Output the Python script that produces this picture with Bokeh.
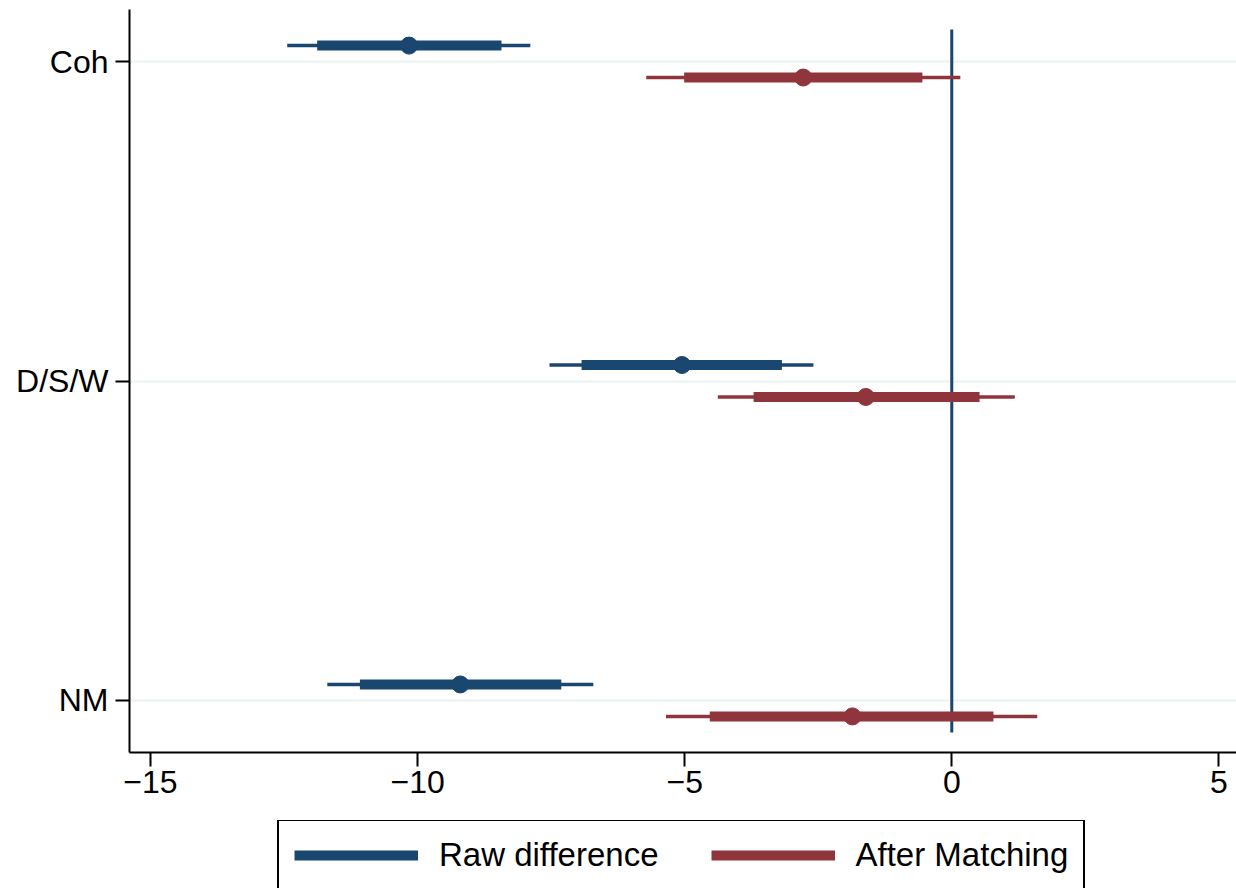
from bokeh.plotting import figure
from bokeh.layouts import column
from bokeh.models import Range1d, FixedTicker, Legend, LegendItem, ColumnDataSource
from bokeh.embed import file_html
from bokeh.resources import INLINE

# ---- data ----
categories = ["Coh", "D/S/W", "NM"]
raw_est = [-10.16, -5.05, -9.20]
raw_lo95 = [-11.88, -6.93, -11.08]
raw_hi95 = [-8.43, -3.18, -7.31]
raw_lo99 = [-12.44, -7.53, -11.69]
raw_hi99 = [-7.89, -2.59, -6.71]
match_est = [-2.78, -1.61, -1.86]
match_lo95 = [-5.01, -3.71, -4.53]
match_hi95 = [-0.55, 0.52, 0.78]
match_lo99 = [-5.72, -4.38, -5.35]
match_hi99 = [0.16, 1.18, 1.60]
series_labels = ["Raw difference", "After Matching"]
x_ticks = [-15, -10, -5, 0, 5]
x_tick_labels = ["\u221215", "\u221210", "\u22125", "0", "5"]

BLUE = "#1a476f"
RED = "#90353b"
FONT = "Liberation Sans"

pos = [i + 1 for i in range(len(categories))]
off = 0.05
raw_y = [p_ - off for p_ in pos]
match_y = [p_ + off for p_ in pos]

p = figure(width=1236, height=820, output_backend="svg", toolbar_location=None,
           x_range=Range1d(-15.393, 5.33), y_range=Range1d(3.163, 0.837),
           min_border_left=129, min_border_right=0, min_border_top=9, min_border_bottom=68)
p.outline_line_color = None
p.background_fill_color = "white"
p.border_fill_color = "white"

raw_src = ColumnDataSource(dict(y=raw_y, est=raw_est, lo95=raw_lo95, hi95=raw_hi95,
                                lo99=raw_lo99, hi99=raw_hi99))
match_src = ColumnDataSource(dict(y=match_y, est=match_est, lo95=match_lo95, hi95=match_hi95,
                                  lo99=match_lo99, hi99=match_hi99))

# zero line
p.segment(x0=[0], y0=[0.9], x1=[0], y1=[3.1], line_color=BLUE, line_width=3)

for src, col in [(raw_src, BLUE), (match_src, RED)]:
    p.segment(x0="lo99", y0="y", x1="hi99", y1="y", source=src, line_color=col, line_width=3.5)
    p.segment(x0="lo95", y0="y", x1="hi95", y1="y", source=src, line_color=col, line_width=10)
    p.scatter(x="est", y="y", source=src, size=17, fill_color=col, line_color=col)

# axes
p.xaxis.ticker = FixedTicker(ticks=x_ticks)
p.xaxis.major_label_overrides = {t: l for t, l in zip(x_ticks, x_tick_labels)}
p.yaxis.ticker = FixedTicker(ticks=pos)
p.yaxis.major_label_overrides = {p_: c for p_, c in zip(pos, categories)}
for ax in (p.xaxis, p.yaxis):
    ax.axis_line_color = "black"
    ax.axis_line_width = 2
    ax.major_tick_line_color = "black"
    ax.major_tick_line_width = 2
    ax.major_tick_out = 14
    ax.major_tick_in = 0
    ax.minor_tick_line_color = None
    ax.major_label_text_font = FONT
    ax.major_label_text_font_size = "32px"
    ax.major_label_text_color = "black"
p.xaxis.major_label_standoff = 4
p.yaxis.major_label_standoff = 7

p.xgrid.grid_line_color = None
p.ygrid.ticker = FixedTicker(ticks=pos)
p.ygrid.grid_line_color = "#eaf2f3"
p.ygrid.grid_line_width = 2

# ---- legend panel ----
p2 = figure(width=1236, height=68, output_backend="svg", toolbar_location=None,
            x_range=Range1d(0, 1), y_range=Range1d(0, 1),
            x_axis_location=None, y_axis_location=None,
            min_border_left=0, min_border_right=0, min_border_top=0, min_border_bottom=0)
p2.outline_line_color = None
p2.grid.visible = False
p2.background_fill_color = "white"
p2.border_fill_color = "white"
# off-range placeholders: only their legend samples are seen
r_raw = p2.segment(x0=[5], y0=[5], x1=[6], y1=[5], line_color=BLUE, line_width=10)
r_match = p2.segment(x0=[5], y0=[5], x1=[6], y1=[5], line_color=RED, line_width=10)

legend = Legend(items=[LegendItem(label=series_labels[0], renderers=[r_raw]),
                       LegendItem(label=series_labels[1], renderers=[r_match])],
                location=(148, -3), orientation="horizontal",
                glyph_width=124, glyph_height=30, label_height=30, label_standoff=21,
                spacing=52, padding=15, margin=0,
                label_text_font=FONT, label_text_font_size="33px", label_text_color="black",
                border_line_color="black", border_line_width=2, border_line_alpha=1,
                background_fill_color="white", background_fill_alpha=1)
p2.add_layout(legend)

open("out.html", "w").write(file_html(column(p, p2), INLINE))
